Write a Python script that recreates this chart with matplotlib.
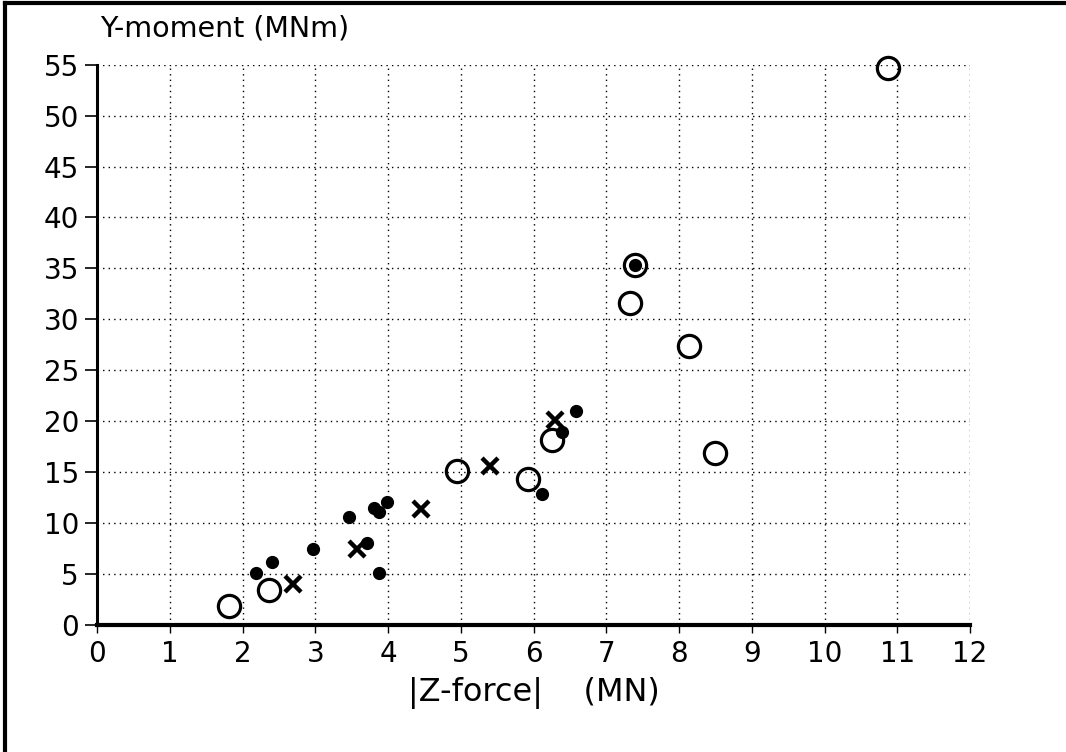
import matplotlib
matplotlib.use("Agg")
import matplotlib.pyplot as plt
from matplotlib.lines import Line2D

# open circles
open_x = [1.81, 2.36, 4.95, 5.92, 6.25, 7.32, 7.40, 8.13, 8.49, 10.87]
open_y = [1.9, 3.4, 15.1, 14.3, 18.2, 31.6, 35.3, 27.4, 16.9, 54.7]

# filled dots
dot_x = [2.18, 2.40, 2.97, 3.46, 3.71, 3.81, 3.88, 3.98, 3.88, 6.11, 6.39, 6.58, 7.40]
dot_y = [5.1, 6.2, 7.5, 10.6, 8.0, 11.5, 11.1, 12.1, 5.1, 12.9, 18.9, 21.0, 35.3]

# crosses
cross_x = [2.69, 3.57, 4.46, 5.40, 6.29]
cross_y = [4.0, 7.5, 11.4, 15.6, 20.1]

xticks = list(range(0, 13))
yticks = list(range(0, 56, 5))

plt.rcParams['font.family'] = ['DejaVu Sans']

fig = plt.figure(figsize=(10.66, 7.52), dpi=100)
ax = fig.add_axes([0.091, 0.169, 0.819, 0.745])

ax.grid(True, color='black', linestyle=(0, (1, 3)), linewidth=1.0)
ax.set_axisbelow(True)

ax.plot(dot_x, dot_y, 'o', color='black', markersize=8.5, zorder=3, clip_on=False)
ax.plot(open_x, open_y, 'o', markerfacecolor='none', markeredgecolor='black',
        markersize=16, markeredgewidth=2.3, zorder=4, clip_on=False)
ax.plot(cross_x, cross_y, 'x', color='black', markersize=11,
        markeredgewidth=3.2, zorder=4, clip_on=False)

ax.set_xlim(0, 12)
ax.set_ylim(0, 55)
ax.set_xticks(xticks)
ax.set_yticks(yticks)
ax.tick_params(axis='both', labelsize=20, colors='black')
ax.tick_params(axis='y', length=9, width=1.2, direction='out', pad=4)
ax.tick_params(axis='x', length=6, width=1, direction='out', pad=5)

for s in ['top', 'right']:
    ax.spines[s].set_visible(False)
ax.spines['left'].set_linewidth(2.2)
ax.spines['bottom'].set_linewidth(3)

ax.set_xlabel('|Z-force|    (MN)', fontsize=23, labelpad=6)
fig.text(0.094, 0.962, 'Y-moment (MNm)', fontsize=20.5, ha='left', va='center')

# outer frame (top and left edges)
fig.add_artist(Line2D([0.005, 1.0], [0.996, 0.996], color='black', linewidth=3,
                      transform=fig.transFigure))
fig.add_artist(Line2D([0.005, 0.005], [0.0, 0.996], color='black', linewidth=3,
                      transform=fig.transFigure))

fig.savefig('out.png', dpi=100)
